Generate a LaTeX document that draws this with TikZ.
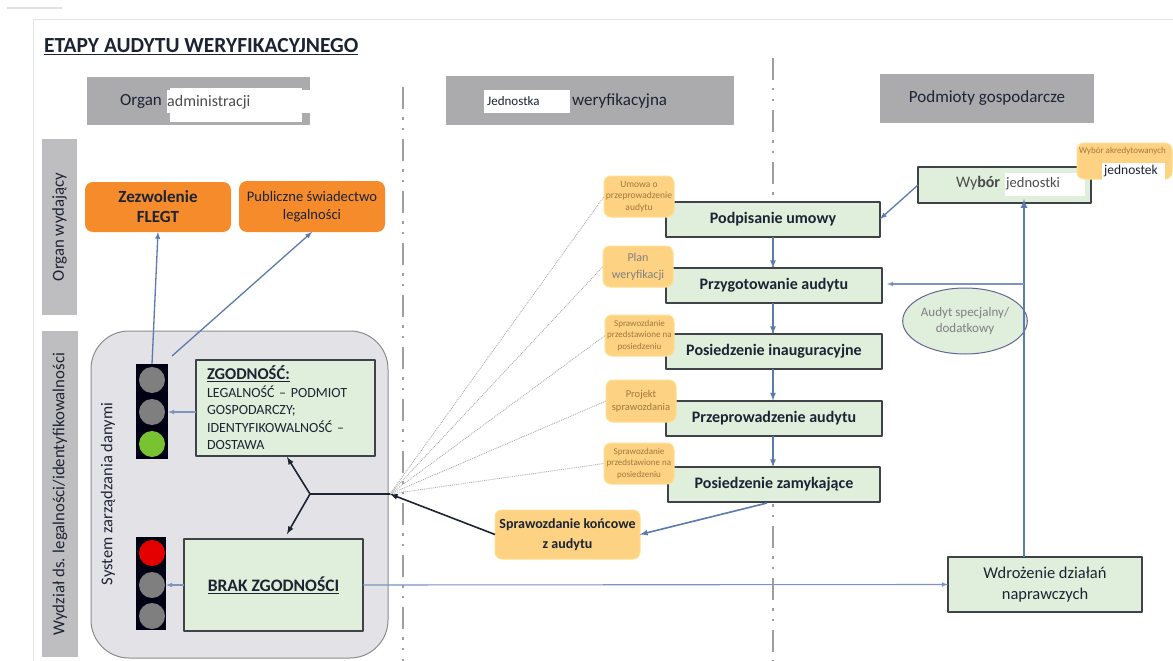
\documentclass[tikz,border=0pt]{standalone}
\usepackage{fontspec}
\setmainfont{Carlito}
\usepackage{xcolor}
\usetikzlibrary{shapes.geometric}
\definecolor{head}{HTML}{ABABAD}
\definecolor{side}{HTML}{BEBEC0}
\definecolor{panel}{HTML}{E3E3E7}
\definecolor{stepfill}{HTML}{E0EEDC}
\definecolor{stepline}{HTML}{3F4347}
\definecolor{orangebox}{HTML}{F58B2B}
\definecolor{yellowbox}{HTML}{FDD283}
\definecolor{yellowline}{HTML}{FFE08E}
\definecolor{flow}{HTML}{5A7BAB}
\definecolor{lampoff}{HTML}{7F7F7F}
\definecolor{lampgreen}{HTML}{79C232}
\definecolor{ink}{HTML}{1C2433}
\definecolor{docink}{HTML}{A07A3C}
\tikzset{
  Head/.style={fill=head, inner sep=0pt, outer sep=0pt, text=ink, font=\fontsize{17}{20}\selectfont},
  SideBar/.style={fill=side, inner sep=0pt, outer sep=0pt, rotate=90, text=ink, font=\fontsize{16.8}{20}\selectfont},
  Issue/.style={fill=orangebox, rounded corners=8pt, inner sep=0pt, outer sep=0pt, align=center, text=ink},
  StepBox/.style={fill=stepfill, draw=stepline, line width=2pt, inner sep=0pt, outer sep=0pt, align=center, text=ink,
    font=\fontsize{16}{19}\selectfont\bfseries},
  Doc/.style={fill=yellowbox, draw=yellowline, line width=1pt, rounded corners=7pt, inner sep=0pt, outer sep=0pt,
    align=center, text=docink, font=\fontsize{9}{11.5}\selectfont},
  Lights/.style={fill=black!92!blue, inner sep=0pt, outer sep=0pt},
  Lamp/.style={circle, fill=#1, minimum size=26pt, inner sep=0pt},
  Flow/.style={draw=flow, line width=1.6pt, ->, >=latex},
  Thin/.style={draw=flow!80, line width=1.1pt, ->, >=latex},
  Fork/.style={draw=ink, line width=1.6pt, ->, >=latex},
  Fan/.style={draw=black!32, line width=0.9pt, densely dotted},
  Lane/.style={draw=black!38, line width=1.6pt, dash pattern=on 22pt off 8pt on 2.5pt off 8pt on 2.5pt off 9pt},
}
\begin{document}
\begin{tikzpicture}[x=1pt, y=-1pt, line join=round]
  \useasboundingbox (0,0) rectangle (1173,661);
  \fill[white] (0,0) rectangle (1173,661);

  % page edges of the screenshot
  \draw[black!12, line width=1.2pt] (7,8) -- (62,8);
  \draw[black!10, line width=1pt] (33,661) -- (33,20) -- (1173,20);

  \node[anchor=west, inner sep=0pt, text=ink, font=\fontsize{21.5}{25}\selectfont\bfseries] (title) at (44,47)
    {\underline{ETAPY AUDYTU WERYFIKACYJNEGO}};

  % swimlane heads
  \node[Head, minimum width=223pt, minimum height=48pt] (organ) at (198.5,101) {};
  \node[Head, minimum width=288pt, minimum height=49pt] (unit) at (590,100.5) {};
  \node[Head, minimum width=214pt, minimum height=49pt] (firms) at (987,98.5) {Podmioty gospodarcze};
  \fill[white] (170,88) rectangle (302,122);
  \fill[white] (167,90) rectangle (310,113);
  \fill[white] (484,90) rectangle (570,113);
  \node[anchor=west, inner sep=0pt, text=ink, font=\fontsize{17}{20}\selectfont] (organa) at (120,101) {Organ};
  \node[anchor=west, inner sep=0pt, text=black!70, font=\fontsize{16}{19}\selectfont] (organb) at (167,102) {administracji};
  \node[anchor=west, inner sep=0pt, text=ink, font=\fontsize{13}{16}\selectfont] (unita) at (487,101) {Jednostka};
  \node[anchor=west, inner sep=0pt, text=ink, font=\fontsize{17}{20}\selectfont] (unitb) at (572,101) {weryfikacyjna};

  % side bars
  \node[SideBar, minimum width=176pt, minimum height=35pt] (issuer) at (59.5,227) {Organ wydający};
  \node[SideBar, minimum width=326pt, minimum height=36pt] (dept) at (60,494) {Wydział ds. legalności/identyfikowalności};

  % lanes
  \coordinate (laneA) at (403,87);
  \coordinate (laneAend) at (403,661);
  \coordinate (laneB) at (773,58);
  \coordinate (laneBend) at (773,661);
  \draw[Lane] (laneA) -- (laneAend);
  \draw[Lane] (laneB) -- (laneBend);

  % data system panel
  \node[fill=panel, draw=black!45, line width=1pt, rounded corners=38pt, minimum width=297pt, minimum height=327pt,
    inner sep=0pt, outer sep=0pt] (system) at (239.5,494.5) {};
  \node[rotate=90, inner sep=0pt, text=ink, font=\fontsize{16.5}{19}\selectfont] (systext) at (108,494) {System zarządzania danymi};

  % issued documents
  \node[Issue, minimum width=146pt, minimum height=50pt, font=\fontsize{17}{20}\selectfont\bfseries] (permit) at (158,207) {Zezwolenie\\FLEGT};
  \node[Issue, minimum width=146pt, minimum height=51pt, font=\fontsize{14.6}{18.5}\selectfont] (cert) at (312,206.5) {Publiczne świadectwo\\legalności};

  % traffic lights
  \node[Lights, minimum width=32pt, minimum height=95pt] (lightsok) at (152,411.5) {};
  \node[Lamp=lampoff] (okA) at (152,380) {};
  \node[Lamp=lampoff] (okB) at (152,412) {};
  \node[Lamp=lampgreen] (okC) at (152,444) {};
  \node[Lights, minimum width=30pt, minimum height=93pt] (lightsno) at (151,583.5) {};
  \node[Lamp=red!90!black] (noA) at (152,553) {};
  \node[Lamp=lampoff] (noB) at (152,585) {};
  \node[Lamp=lampoff] (noC) at (152,616) {};

  % results
  \node[StepBox, minimum width=179pt, minimum height=96pt, text width=157pt, align=left, font=\fontsize{14}{17.5}\selectfont] (ok) at (285.5,408)
    {{\fontsize{16.5}{17.5}\selectfont\bfseries\underline{ZGODNOŚĆ:}}\\LEGALNOŚĆ – PODMIOT\\GOSPODARCZY;\\IDENTYFIKOWALNOŚĆ –\\DOSTAWA};
  \node[StepBox, minimum width=179pt, minimum height=92pt, font=\fontsize{17.5}{20}\selectfont\bfseries] (no) at (273.5,585) {\underline{BRAK ZGODNOŚCI}};

  \coordinate (hub) at (390,494);
  \coordinate (split) at (310,494);
  \coordinate (forkup) at (287,457);
  \coordinate (forkdown) at (287,534);

  % steps of the audit
  \node[StepBox, minimum width=214pt, minimum height=35pt] (signing) at (773,219) {Podpisanie umowy};
  \node[StepBox, minimum width=216pt, minimum height=35pt] (prep) at (774,285.5) {Przygotowanie audytu};
  \node[StepBox, minimum width=216pt, minimum height=35pt] (opening) at (774,351.5) {Posiedzenie inauguracyjne};
  \node[StepBox, minimum width=216pt, minimum height=35pt] (audit) at (774,418) {Przeprowadzenie audytu};
  \node[StepBox, minimum width=212pt, minimum height=35pt] (closing) at (774,484.5) {Posiedzenie zamykające};

  % documents of the steps
  \node[Doc, minimum width=70pt, minimum height=41pt, font=\fontsize{9.5}{11.5}\selectfont] (docA) at (639,196.5) {Umowa o\\przeprowadzenie\\audytu};
  \node[Doc, minimum width=70pt, minimum height=41pt, text=black!50, font=\fontsize{12}{17}\selectfont] (docB) at (638,266.5) {Plan\\weryfikacji};
  \node[Doc, minimum width=69pt, minimum height=41pt] (docC) at (639.5,335.5) {Sprawozdanie\\przedstawione na\\posiedzeniu};
  \node[Doc, minimum width=70pt, minimum height=42pt, font=\fontsize{10.5}{13}\selectfont] (docD) at (641,401) {Projekt\\sprawozdania};
  \node[Doc, minimum width=70pt, minimum height=41pt] (docE) at (639,463.5) {Sprawozdanie\\przedstawione na\\posiedzeniu};
  \node[Doc, minimum width=145pt, minimum height=49pt, text=ink, font=\fontsize{14}{20}\selectfont\bfseries] (final) at (567.5,534.5) {Sprawozdanie końcowe\\z audytu};

  % economic operators
  \node[StepBox, minimum width=173pt, minimum height=36pt] (choice) at (1004.5,185) {};
  \fill[white] (1005,173) rectangle (1085,196);
  \node[anchor=west, inner sep=0pt, text=black!70, font=\fontsize{16}{19}\selectfont] (choicea) at (956,183) {Wy\textbf{bór}};
  \node[anchor=west, inner sep=0pt, text=black!70, font=\fontsize{14.5}{17}\selectfont] (choiceb) at (1006,184) {jednostki};
  \node[Doc, minimum width=95pt, minimum height=36pt] (accr) at (1124.5,161) {};
  \fill[white] (1102,163) rectangle (1165,192);
  \node[anchor=west, inner sep=0pt, text=docink, font=\fontsize{9}{10}\selectfont] (accra) at (1079,151) {Wybór akredytowanych};
  \node[anchor=west, inner sep=0pt, text=ink, font=\fontsize{13.5}{15}\selectfont] (accrb) at (1104,171) {jednostek};
  \node[ellipse, fill=stepfill, draw=black!70!blue!60, line width=1pt, minimum width=106pt, minimum height=66pt, inner sep=0pt,
    outer sep=0pt, align=center, text=black!50, font=\fontsize{13}{16}\selectfont] (special) at (965,321) {Audyt specjalny/\\dodatkowy};
  \node[StepBox, minimum width=194pt, minimum height=55pt, line width=1.6pt, font=\fontsize{16.5}{21}\selectfont] (repair) at (1045,584.5) {Wdrożenie działań\\naprawczych};

  \coordinate (spine) at (1024,284);
  \coordinate (closingout) at (767,503);

  % connectors
  \draw[Fan] (hub) -- (docA.west);
  \draw[Fan] (hub) -- (docB.west);
  \draw[Fan] (hub) -- (docC.west);
  \draw[Fan] (hub) -- (docD.west);
  \draw[Fan] (hub) -- (docE.west);
  \draw[draw=ink, line width=1.6pt] (split) -- (hub);
  \draw[Fork] (split) -- (forkup);
  \draw[Fork] (split) -- (forkdown);
  \draw[Fork] (final.west) -- (hub);
  \draw[Flow, line width=1.3pt] (lightsok.north) -- (permit.south);
  \draw[Flow, line width=1.3pt] (lightsok.north east) ++(4,-8) -- (cert.south);
  \draw[Thin] (ok.west |- okB) -- (lightsok.east |- okB);
  \draw[Thin] (no.west) -- (lightsno.east |- no);
  \draw[Thin] (no.east) -- (repair.west);
  \draw[Flow] (signing.south) -- (prep.north -| signing);
  \draw[Flow] (prep.south -| signing) -- (opening.north -| signing);
  \draw[Flow] (opening.south -| signing) -- (audit.north -| signing);
  \draw[Flow] (audit.south -| signing) -- (closing.north -| signing);
  \draw[Flow] (closingout) -- (final.east);
  \draw[Flow, line width=1.3pt] (choice.west) -- (signing.east);
  \draw[Flow, line width=2pt] (repair.north -| spine) -- ([yshift=4pt]choice.south -| spine);
  \draw[Thin] (spine) -- ([xshift=5pt]prep.east |- spine);
\end{tikzpicture}
\end{document}
